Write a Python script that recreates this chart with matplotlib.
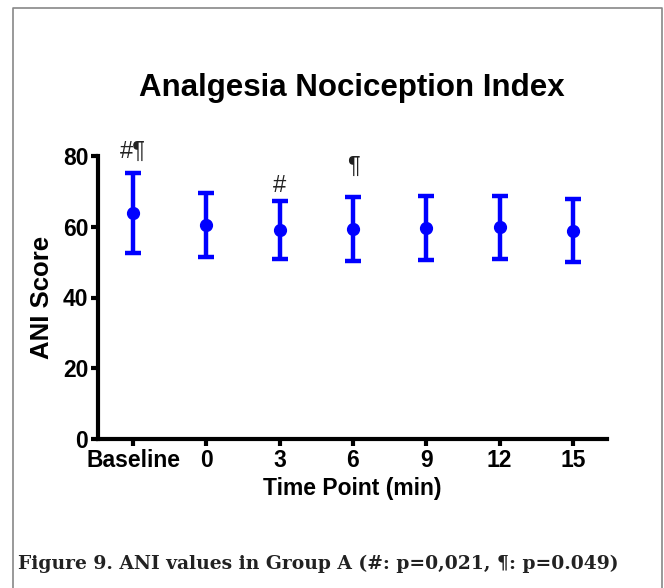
import matplotlib.pyplot as plt
from matplotlib.lines import Line2D

# data
time_labels = ['Baseline', '0', '3', '6', '9', '12', '15']
ani_mean = [63.8, 60.5, 59.1, 59.3, 59.7, 59.8, 58.9]
ani_sd = [11.3, 9.1, 8.3, 9.0, 9.0, 8.8, 9.0]
marks = {0: '#¶', 2: '#', 3: '¶'}
mark_y = {0: 81.2, 2: 71.5, 3: 77.0}

plt.rcParams['font.family'] = ['Liberation Sans', 'DejaVu Sans']

W, H = 664, 588
fig = plt.figure(figsize=(W / 100, H / 100), dpi=100)
ax = fig.add_axes([98 / W, 1 - 439 / H, (606.5 - 98) / W, (439 - 156) / H])

xs = list(range(len(time_labels)))
eb = ax.errorbar(xs, ani_mean, yerr=ani_sd, fmt='o', color='#0000ff', ms=8.5,
                 elinewidth=3.2, capsize=6, capthick=3.2, clip_on=False, zorder=3)
for c in eb[1]:
    c.set_solid_capstyle('round')

for i, txt in marks.items():
    ax.text(xs[i], mark_y[i], txt, ha='center', va='center', fontsize=17,
            color='#222222', clip_on=False)

ax.set_xlim(-0.48, 6.46)
ax.set_ylim(0, 80)
ax.set_yticks([0, 20, 40, 60, 80])
ax.set_xticks(xs)
ax.set_xticklabels(time_labels)
for s in ['top', 'right']:
    ax.spines[s].set_visible(False)
for s in ['left', 'bottom']:
    ax.spines[s].set_linewidth(3)
ax.tick_params(width=3, length=5, labelsize=16.5, pad=2)
for lab in ax.get_xticklabels() + ax.get_yticklabels():
    lab.set_fontweight('bold')

ax.set_xlabel('Time Point (min)', fontsize=16.5, fontweight='bold', labelpad=4)
ax.set_ylabel('ANI Score', fontsize=18.5, fontweight='bold', labelpad=6)

fig.text(352 / W, 1 - 88 / H, 'Analgesia Nociception Index', ha='center',
         va='center', fontsize=22.5, fontweight='bold')
fig.text(18 / W, 1 - 564 / H, 'Figure 9. ANI values in Group A (#: p=0,021, ¶: p=0.049)',
         ha='left', va='center', fontsize=13.5, fontweight='bold',
         family=['DejaVu Serif'], color='#222222')

# the grey box the figure sits in (left, top, right edges only)
fig.add_artist(Line2D([13 / W, 13 / W, 662 / W, 662 / W],
                      [0, 1 - 8 / H, 1 - 8 / H, 0], color='#888888', lw=1.2))

fig.savefig('out.png', dpi=100)
